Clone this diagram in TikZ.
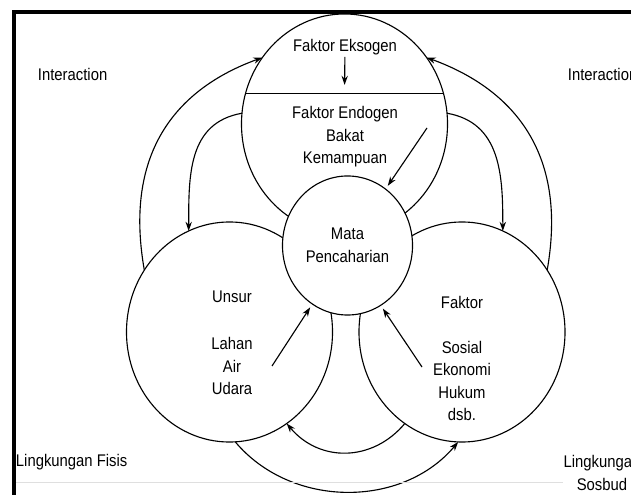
\documentclass[tikz,border=0pt]{standalone}
\usepackage{fontspec}
\setmainfont{Liberation Sans}[FakeStretch=0.88]
\usepackage{tikz}
\usetikzlibrary{arrows.meta}
\usetikzlibrary{shapes.geometric}

\begin{document}
\begin{tikzpicture}[x=0.025cm,y=0.025cm,
  >={Stealth[length=6.5pt,width=4.5pt]},thick,
  font=\fontsize{12}{16}\selectfont,
  ring/.style={ellipse,draw,fill=white,minimum width=5.15cm,minimum height=5.5cm,inner sep=0pt,outer sep=0pt},
  hub/.style={ellipse,draw,fill=white,minimum width=3.25cm,minimum height=3.475cm,inner sep=0pt,outer sep=0pt,align=center},
  txt/.style={align=center,inner sep=1pt},
  feed/.style={->,shorten >=1mm}]
  \useasboundingbox (0,0) rectangle (631,494);

  % the four circles
  \node [ring] (top) at (344.5,370) {};
  \node [ring] (left) at (229.5,162) {};
  \node [ring] (right) at (462,162) {};
  \node [hub] (mata) at (347.5,248.5) {Mata\\Pencaharian};
  \draw (top.163) -- coordinate (cut) (top.17);

  % texts
  \node [txt] (eksogen) at (345,447) {Faktor Eksogen};
  \node [txt] (endogen) at (345,357) {Faktor Endogen\\Bakat\\Kemampuan};
  \node [txt] (unsur) at (232,197) {Unsur};
  \node [txt] (alam) at (232,128) {Lahan\\Air\\Udara};
  \node [txt] (faktor) at (462,192) {Faktor};
  \node [txt] (sosek) at (462,113) {Sosial\\Ekonomi\\Hukum\\dsb.};
  \node [txt,anchor=west] (interl) at (36,420) {Interaction};
  \node [txt,anchor=west] (interr) at (566,420) {Interaction};
  \node [txt,anchor=west] (lingfis) at (14,32) {Lingkungan Fisis};
  \node [txt] (lingsos) at (602,21) {Lingkungan\\Sosbud};

  % straight arrows
  \coordinate (kemfoot) at (427,366);
  \coordinate (alamfoot) at (272,128);
  \coordinate (sosekfoot) at (422,127);
  \draw [->,shorten >=0.22cm] (eksogen) -- (cut);
  \draw [feed] (kemfoot) -- (mata.56);
  \draw [feed] (alamfoot) -- (mata.239);
  \draw [feed] (sosekfoot) -- (mata.299);

  % interaction arcs
  \path [->]
    (left.144) edge [out=100,in=200,out distance=3.25cm,in distance=2cm] (top.141)
    (right.36) edge [out=80,in=-20,out distance=3.25cm,in distance=2cm] (top.39)
    (top.174) edge [out=190,in=90,distance=1.375cm] (left.112)
    (top.6) edge [out=-10,in=90,distance=1.375cm] (right.68)
    (right.238) edge [out=230,in=310,looseness=1.1] (left.302)
    (left.273) edge [out=-50,in=230] (right.268);

  % frame
  \draw [gray!25,line width=0.6pt] (16,12) -- (563,12);
  \draw [line width=2.7pt] (13.8,-5) -- (13.8,482.3) -- (640,482.3);
\end{tikzpicture}
\end{document}
